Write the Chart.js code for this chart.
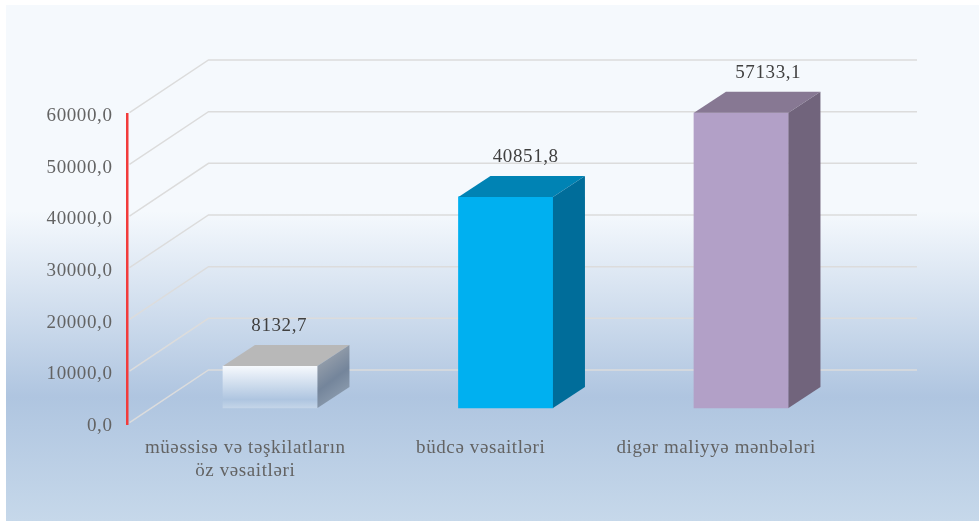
<!DOCTYPE html>
<html lang="az">
<head>
  <meta charset="UTF-8" />
  <title>Maliyyə mənbələri</title>
  <script src="https://cdn.jsdelivr.net/npm/chart.js"></script>
  <style>
    html, body { margin: 0; padding: 0; background: #fff; }
    #wrap { position: relative; width: 979px; height: 521px; overflow: hidden; }
    #panel {
      position: absolute; left: 6px; top: 5px; right: 0; bottom: 0;
      background: linear-gradient(180deg, #f5f9fd 0, #f5f9fd 40%, #afc5e0 76%, #c6d8ea 100%);
    }
    canvas { position: absolute; left: 0; top: 0; }
  </style>
</head>
<body>
<div id="wrap">
  <div id="panel"></div>
  <canvas id="chart" width="979" height="521"></canvas>
</div>
<script>
  const categories = [
    ['müəssisə və təşkilatların', 'öz vəsaitləri'],
    'büdcə vəsaitləri',
    'digər maliyyə mənbələri'
  ];
  const values = [8132.7, 40851.8, 57133.1];
  const yTickMax = 60000;
  const yTickStep = 10000;

  // 3D look
  const wallDepth = { x: 81, y: 54 };
  const barDepth = { x: 32, y: 21 };
  const gridRight = 917;
  const frontColors = ['#ffffff', '#00b0f0', '#b2a0c7'];
  const topColors = ['#b8b8b8', '#0083b4', '#877893'];
  const sideColors = ['#808c9a', '#006d9a', '#71647c'];
  const labelNudge = [9, 20, 27];

  const fmt = v => v.toFixed(1).replace('.', ',');

  function face(ctx, pts, fill) {
    ctx.beginPath();
    pts.forEach((p, i) => i ? ctx.lineTo(p[0], p[1]) : ctx.moveTo(p[0], p[1]));
    ctx.closePath();
    ctx.fillStyle = fill;
    ctx.fill();
  }

  // the reference text is a little wider than the plain font
  const wideText = {
    id: 'wideText',
    beforeDraw(chart) { chart.ctx.letterSpacing = '0.6px'; }
  };

  // gridlines running along the floor side wall and the back wall
  const wallGrid = {
    id: 'wallGrid',
    beforeDatasetsDraw(chart) {
      const { ctx } = chart;
      const y = chart.scales.y;
      ctx.save();
      ctx.strokeStyle = '#dcdcdc';
      ctx.lineWidth = 1.5;
      y.ticks.forEach(t => {
        const py = y.getPixelForValue(t.value);
        ctx.beginPath();
        // start just right of the red axis so it stays unbroken
        ctx.moveTo(y.right + 2, py - 1.3);
        ctx.lineTo(y.right + wallDepth.x, py - wallDepth.y);
        ctx.lineTo(gridRight, py - wallDepth.y);
        ctx.stroke();
      });
      ctx.restore();
    }
  };

  // top and side faces of each bar, plus the value labels
  const barFaces = {
    id: 'barFaces',
    afterDatasetsDraw(chart) {
      const { ctx } = chart;
      const bars = chart.getDatasetMeta(0).data;
      ctx.save();
      bars.forEach((bar, i) => {
        const l = bar.x - bar.width / 2;
        const r = bar.x + bar.width / 2;
        const t = bar.y;
        const b = bar.base;
        const dx = barDepth.x;
        const dy = barDepth.y;
        face(ctx, [[l, t], [l + dx, t - dy], [r + dx, t - dy], [r, t]], topColors[i]);
        let side = sideColors[i];
        if (i === 0) {
          side = ctx.createLinearGradient(r, t - dy, r + dx, b - dy);
          side.addColorStop(0, '#a9aeb4');
          side.addColorStop(0.7, '#74859b');
          side.addColorStop(1, '#8797aa');
        }
        face(ctx, [[r, t], [r + dx, t - dy], [r + dx, b - dy], [r, b]], side);
        ctx.fillStyle = '#404040';
        ctx.font = '19px "Liberation Serif"';
        ctx.textAlign = 'center';
        ctx.textBaseline = 'middle';
        ctx.fillText(fmt(values[i]), bar.x + labelNudge[i], t - 40);
      });
      ctx.restore();
    }
  };

  new Chart(document.getElementById('chart'), {
    type: 'bar',
    data: {
      labels: categories,
      datasets: [{
        data: values.map((v, i) => ({ x: i, y: v })),
        xAxisID: 'xBars',
        yAxisID: 'yBars',
        barThickness: 94.5,
        clip: false,
        borderWidth: 0,
        backgroundColor(c) {
          if (c.dataIndex !== 0 || !c.element) return frontColors[c.dataIndex];
          const g = c.chart.ctx.createLinearGradient(0, 366, 0, 408);
          g.addColorStop(0, '#f6f9fd');
          g.addColorStop(0.8, '#aec5e0');
          g.addColorStop(1, '#c4d5e8');
          return g;
        }
      }]
    },
    plugins: [wideText, wallGrid, barFaces],
    options: {
      responsive: false,
      animation: false,
      layout: { padding: { left: 27.5, top: 114, right: 145, bottom: 0 } },
      plugins: { legend: { display: false }, tooltip: { enabled: false } },
      scales: {
        x: {
          type: 'category',
          offset: true,
          grid: { display: false },
          border: { display: false },
          afterFit(s) { s.height = 97; },
          ticks: {
            padding: 5,
            maxRotation: 0,
            autoSkip: false,
            color: '#636363',
            font: { family: '"Liberation Serif"', size: 19 }
          }
        },
        y: {
          min: 0,
          max: yTickMax,
          afterFit(s) { s.width = 100; },
          grid: { display: false, drawTicks: false },
          border: { display: true, color: '#f23b3b', width: 2.5 },
          ticks: {
            stepSize: yTickStep,
            padding: 15,
            labelOffset: 2,
            color: '#636363',
            font: { family: '"Liberation Serif"', size: 19 },
            callback: v => fmt(v)
          }
        },
        // hidden scales: the bars stand further back on the floor than the axis
        xBars: { type: 'linear', display: false, offset: false, min: -0.606, max: 2.394 },
        yBars: { display: false, min: -3097, max: 56903 }
      }
    }
  });
</script>
</body>
</html>
